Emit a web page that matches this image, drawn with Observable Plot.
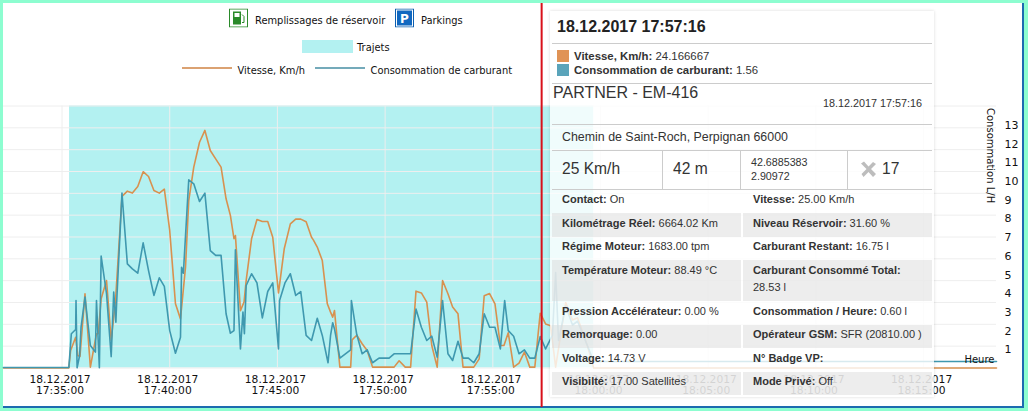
<!DOCTYPE html>
<html lang="fr">
<head>
<meta charset="utf-8">
<script src="https://cdn.jsdelivr.net/npm/d3@7"></script>
<script src="https://cdn.jsdelivr.net/npm/@observablehq/plot@0.6"></script>
<style>
html,body{margin:0;padding:0;width:1028px;height:411px;overflow:hidden;background:#8dfdd0;}
#frame{position:absolute;left:3px;top:3px;width:1019px;height:403px;background:#fff;border-right:2px solid #1c6bb0;border-bottom:2px solid #1c6bb0;}
#chart{position:absolute;left:0;top:0;}
#chart svg{background:transparent;overflow:visible;}
#over{position:absolute;left:0;top:0;width:1028px;height:411px;}
.t{position:absolute;white-space:nowrap;transform:translateY(-50%);}
.lg{font:9.9px "DejaVu Sans",sans-serif;color:#111;}
.tip{font:11px "Liberation Sans",Arial,sans-serif;color:#333;}
.b{position:absolute;}
</style>
</head>
<body>
<div id="frame"></div>
<div id="chart"></div>
<div id="over"></div>
<script>
// Seconds after 17:35:00 on 18.12.2017
const speedTimes = [-163,19,24,38,44,50,64,79,96,101,109,124,137,149,156,167,182,196,211,226,241,256,271,285,300,316,330,344,353,367,383,398,413,428,443,457,469,479,483,497,507,513,528,543,558,573,587,603,619,636,651,665,680,695,700,711,725,739,748,754,759,774,804,808,821,836,850,865,925,939,956,971,986,1001,1016,1030,1045,1060,1075,1088,1103,1117,1147,1162,1176,1191,1206,1221,1231,1243,1258,1273,1288,1303,1317,1332,1347,1361,1375,1403,1422,1436,1464,1481,2603];
const speedValues = [0,0,8,14.1,5.7,5.3,34,0.4,15.7,15.7,31.7,40.1,12.6,30.9,49.2,78.6,81,80.1,83.1,89.9,87.7,81.3,80.1,81.9,63,29.4,22.5,46.2,76.7,92,103.4,108.8,99.6,95.8,92,77.5,69.9,59.2,60.7,26.3,30.2,40.1,59.2,68,67.1,67.1,59.9,34.4,54.6,66,68.2,68.2,67,59.9,58.7,55.4,49.2,29.4,25.6,23.3,26.3,0.4,0.4,12.9,15,11.1,8,0.4,0.4,3.3,0.4,0.4,35.2,34.4,30.2,10.3,0.4,40.1,34,27.9,24.8,0.4,0.4,4.2,33.1,34.1,29.4,10.3,10.3,16.1,0.4,2.2,7.3,0.4,0.4,25.1,20.2,19.3,0.4,30,22,23,10,0,0];
const fuelTimes = [-163,19,26,38,39,42,49,53,64,79,93,96,104,109,124,137,144,150,152,167,182,196,211,226,241,256,271,285,300,316,330,333,338,353,367,383,398,413,428,443,457,469,479,483,497,504,508,513,528,543,558,573,587,603,606,621,636,651,665,680,695,711,725,741,748,754,759,774,804,806,821,836,850,865,883,911,925,971,986,1001,1016,1030,1045,1060,1075,1088,1103,1117,1132,1147,1162,1176,1191,1206,1221,1233,1243,1258,1273,1288,1303,1317,1332,1347,1366,1375,1383,1403,1422,1436,1453,1481,2603];
const fuelValues = [0.03,0.03,1.83,2.06,3.61,0.01,0.67,2.18,3.79,1.2,0.85,3.61,0.01,5.98,3.97,0.61,4.06,2.45,3.43,9.35,5.57,5.3,5.07,6.69,5.21,3.88,4.82,4.36,2,0.79,1.65,5.39,5.07,10.06,9.85,8.9,9.35,6.28,6.02,6.02,2.9,1.86,2,6.32,1.02,2.99,1.83,4.41,5.04,4.55,2.68,4.09,4.55,1.02,3.61,4.55,5.04,3.88,4.09,1.74,1.47,2.66,1.74,0.28,1.74,2.42,2.09,0.53,0.97,3.61,1.79,0.76,0.97,0.28,0.53,0.53,0.76,0.76,3.15,2.18,1.47,1.7,0.58,3.61,0.76,0.4,1.43,0.53,0.53,0.28,0.76,2.9,2.18,2.18,1.02,3.61,2,1.7,0.76,0.97,0.53,0.53,1.68,1.02,1.74,5.1,1.47,3.3,2.3,2.5,1.7,0.35,0.35];
const tripStart = [21];
const tripEnd = [1481];
const cursorTime = [1336];
const xTicks = [0,300,600,900,1200,1500,1800,2100,2400];
const speedGrid = [0,10,20,30,40,50,60,70,80,90,100,110,120];
const fuelTicks = [1,2,3,4,5,6,7,8,9,10,11,12,13];
const fuelToSpeed = 8.566;

const orange = "#d8914f";
const blue = "#3f98af";
const t0 = new Date(2017, 11, 18, 17, 35, 0);
const at = s => new Date(+t0 + s * 1000);
const fmt = d3.timeFormat("%d.%m.%Y\n%H:%M:%S");
const font = '"DejaVu Sans",sans-serif';

const speedData = speedTimes.map((t, i) => ({t: at(t), v: speedValues[i]}));
const fuelData = fuelTimes.map((t, i) => ({t: at(t), v: fuelValues[i]}));

const plot = Plot.plot({
  width: 1028, height: 411,
  marginLeft: 3, marginRight: 32, marginTop: 105.5, marginBottom: 43.5,
  style: {background: "transparent", fontFamily: font, fontSize: "10.7px", color: "#111"},
  x: {type: "time", domain: [at(-163), at(2603)]},
  y: {domain: [0, 120]},
  marks: [
    Plot.rect(tripStart.map((s, i) => ({a: at(s), b: at(tripEnd[i])})), {x1: "a", x2: "b", fill: "#b3f1f1"}),
    Plot.gridX(xTicks.map(at), {stroke: "#eeeeee", strokeOpacity: 1}),
    Plot.gridY(speedGrid, {stroke: "#eeeeee", strokeOpacity: 1}),
    Plot.line(speedData, {x: "t", y: "v", stroke: orange, strokeWidth: 1.6}),
    Plot.line(fuelData, {x: "t", y: d => d.v * fuelToSpeed, stroke: blue, strokeWidth: 1.6}),
    Plot.axisX(xTicks.map(at), {tickSize: 0, tickPadding: 7, tickFormat: fmt, dx: -2, fontSize: 10.7, lineHeight: 1.03, label: null}),
    Plot.axisY(fuelTicks.map(c => c * fuelToSpeed), {anchor: "right", tickSize: 0, tickPadding: 8, tickFormat: v => Math.round(v / fuelToSpeed), fontSize: 11, dy: 0.5, label: null}),
    Plot.text(["Consommation L/H"], {frameAnchor: "top-right", rotate: 90, textAnchor: "start", dx: -2, dy: 2, fontSize: 10, fill: "#111"}),
    Plot.text(["Heure"], {frameAnchor: "bottom-right", textAnchor: "end", dx: -2, dy: -5.5, fontSize: 10, fill: "#111"}),
    Plot.ruleX(cursorTime.map(at), {stroke: "#d8101a", strokeWidth: 2, insetTop: -102.5, insetBottom: -39.5})
  ]
});
document.getElementById("chart").appendChild(plot);

// ---- legend and tooltip overlay
const over = document.getElementById("over");
function put(html, x, y, cls, css) {
  const e = document.createElement("div");
  e.className = "t " + cls;
  e.innerHTML = html;
  e.style.left = x + "px"; e.style.top = y + "px";
  if (css) e.style.cssText += css;
  over.appendChild(e);
  return e;
}
function box(x, y, w, h, css) {
  const e = document.createElement("div");
  e.className = "b";
  e.style.cssText = `left:${x}px;top:${y}px;width:${w}px;height:${h}px;` + (css || "");
  over.appendChild(e);
  return e;
}
const legendFuelIcon = '<svg width="19" height="19" viewBox="0 0 19 19"><rect x=".5" y=".5" width="18" height="18" fill="#fff" stroke="#2a8a2a"/><path d="M4 3h8v13H4z M5.500 4.500v4h5v-4z" fill="#2a8a2a" fill-rule="evenodd"/><path d="M13 6l2 2v6h-2" fill="none" stroke="#2a8a2a"/></svg>';
const legendParkIcon = '<svg width="19" height="19" viewBox="0 0 19 19"><rect x=".5" y=".5" width="18" height="18" fill="#fff" stroke="#0c5fb0"/><rect x="2" y="2" width="15" height="15" fill="#1168c0"/><text x="9.500" y="14.500" text-anchor="middle" font-family="DejaVu Sans" font-weight="bold" font-size="12" fill="#fff">P</text></svg>';
put(legendFuelIcon, 229, 17.5, "lg", "line-height:0");
put("Remplissages de réservoir", 255, 20, "lg");
put(legendParkIcon, 395, 17.5, "lg", "line-height:0");
put("Parkings", 421, 20, "lg");
box(302, 40, 51, 12.5, "background:#b3f1f1");
put("Trajets", 357, 47, "lg");
box(182, 67, 50, 2, "background:#dba272");
put("Vitesse, Km/h", 237.5, 69.5, "lg");
box(315, 67, 50, 2, "background:#74aaba");
put("Consommation de carburant", 370.5, 69.5, "lg");

// tooltip
const tipTitle = "18.12.2017 17:57:16";
const tipSeries = [["Vitesse, Km/h:", "24.166667", "#e09356"], ["Consommation de carburant:", "1.56", "#5aa4ba"]];
const tipVehicle = "PARTNER - EM-416";
const tipAddress = "Chemin de Saint-Roch, Perpignan 66000";
const tipCells = ["25 Km/h", "42 m", "42.6885383", "2.90972", "17"];
const rowsLeft = [["Contact:", "On"], ["Kilométrage Réel:", "6664.02 Km"], ["Régime Moteur:", "1683.00 tpm"], ["Température Moteur:", "88.49 °C"], ["Pression Accélérateur:", "0.00 %"], ["Remorquage:", "0.00"], ["Voltage:", "14.73 V"], ["Visibilté:", "17.00 Satellites"]];
const rowsRight = [["Vitesse:", "25.00 Km/h"], ["Niveau Réservoir:", "31.60 %"], ["Carburant Restant:", "16.75 l"], ["Carburant Consommé Total:", "28.53 l"], ["Consommation / Heure:", "0.60 l"], ["Opérateur GSM:", "SFR (20810.00 )"], ["N° Badge VP:", ""], ["Mode Privé:", "Off"]];

box(550, 11, 384, 386, "background:rgba(255,255,255,.8);box-shadow:0 0 3px rgba(0,0,0,.15)");
const hr = (y) => box(552, y, 380, 1, "background:#ccc");
put(tipTitle, 557, 27, "tip", "font-size:16px;font-weight:bold;color:#222");
hr(43);
tipSeries.forEach((s, i) => {
  const y = 56 + i * 14.3;
  box(557, y - 6, 12, 12, "background:" + s[2]);
  put(`<b>${s[0]}</b> ${s[1]}`, 574, y, "tip", "font-size:11.4px");
});
hr(83);
put(tipVehicle, 553, 93, "tip", "font-size:16px;color:#333");
put(tipTitle, 823, 103, "tip", "font-size:10.8px");
hr(124);
put(tipAddress, 562, 137, "tip", "font-size:12.4px");
hr(150);
put(tipCells[0], 562, 169, "tip", "font-size:15.6px");
put(tipCells[1], 673, 169, "tip", "font-size:15.6px");
put(tipCells[2], 751, 162, "tip", "font-size:10.7px");
put(tipCells[3], 751, 176, "tip", "font-size:10.7px");
put('<svg width="17" height="17" viewBox="0 0 17 17"><path d="M1 3l3-2 4.500 5L13 1.500l3 2-5 5 5 5-3 3-4.500-5-5 5-2-3 5-5z" fill="#bdbdbd"/></svg>', 860, 169, "tip", "line-height:0");
put(tipCells[4], 882, 169, "tip", "font-size:15.6px");
[662, 740, 847].forEach(x => box(x, 150, 1, 39, "background:#ccc"));
hr(189);
[[213, 24], [260, 41], [325, 23], [372, 23]].forEach(([y, h]) => {
  box(552, y, 189, h, "background:rgba(215,215,215,.45)");
  box(743, y, 189, h, "background:rgba(215,215,215,.45)");
});
const rowY = [199, 223, 246, 270, 311, 334, 358, 381];
rowY.forEach((y, i) => {
  put(`<b>${rowsLeft[i][0]}</b> ${rowsLeft[i][1]}`, 562, y, "tip");
  if (i === 3) {
    put(`<b>${rowsRight[i][0]}</b>`, 753, y, "tip");
    put(rowsRight[i][1], 753, 287, "tip");
  } else {
    put(`<b>${rowsRight[i][0]}</b> ${rowsRight[i][1]}`, 753, y, "tip");
  }
});
</script>
</body>
</html>
